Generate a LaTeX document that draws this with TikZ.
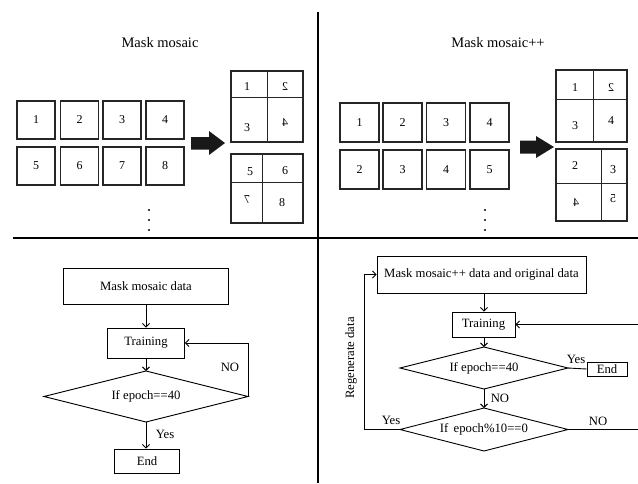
\documentclass[tikz,border=0pt]{standalone}
\usepackage{fontspec}
\setmainfont{Liberation Serif}
\usetikzlibrary{arrows.meta}
\begin{document}
\begin{tikzpicture}[x=1pt,y=-1pt,
  txt/.style={font=\fontsize{12.7}{14}\selectfont},
  numbox/.style={draw=black!85,line width=1.3pt,minimum width=38pt,minimum height=38pt,inner sep=0pt,font=\fontsize{12}{14}\selectfont},
  lbl/.style={inner sep=0pt,font=\fontsize{12}{14}\selectfont},
  title/.style={font=\fontsize{14.5}{16}\selectfont},
  fbox/.style={draw,line width=0.9pt,inner sep=0pt,font=\fontsize{12.7}{14}\selectfont},
  diatext/.style={inner sep=0pt,font=\fontsize{12.7}{14}\selectfont},
  dialine/.style={line width=0.9pt},
  conn/.style={line width=0.9pt},
  arr/.style={line width=0.9pt,-{Straight Barb[length=3.5pt,width=7pt]}},
  bigarrow/.style={fill=black!90,draw=none},
  divider/.style={line width=1.5pt},
  mosaic/.style={draw=black!85,line width=1.2pt},
  mline/.style={draw=black!85,line width=0.9pt}
]
\useasboundingbox (0,0) rectangle (638,483);
% dividers
\draw[divider] (318,12) -- (318,483);
\draw[divider] (13,238) -- (638,238);

% ===== top left =====
\node[title] (t1) at (160,43) {Mask mosaic};
\foreach \n/\x/\y in {1/36/120,2/79.5/120,3/122/120,4/165/120,5/36/166,6/79.5/166,7/122/166,8/165/166}
  \node[numbox] (L\n) at (\x,\y) {\n};
\fill[bigarrow] (191,137) -- (209,137) -- (209,131) -- (225,143) -- (209,155) -- (209,149.5) -- (191,149.5) -- cycle;
% mosaic A
\draw[mosaic] (231,71) rectangle (303,142);
\draw[mline] (267,71) -- (267,142) (231,97) -- (303,97);
\node[lbl] (a1) at (247,87) {1};
\node[lbl] (a2) at (285,87) {\reflectbox{2}};
\node[lbl] (a3) at (247,128) {3};
\node[lbl] (a4) at (285,123) {\reflectbox{4}};
% mosaic B
\draw[mosaic] (231,154) rectangle (303,223);
\draw[mline] (262,154) -- (262,223) (231,182) -- (303,182);
\node[lbl] (b5) at (250,172) {5};
\node[lbl] (b6) at (285,171) {6};
\node[lbl] (b7) at (247,200) {\reflectbox{7}};
\node[lbl] (b8) at (282,203) {8};
\foreach \y in {210,220,230} \fill (149,\y) circle (1.2);

% ===== top right =====
\node[title] (t2) at (498,43) {Mask mosaic++};
\foreach \k/\n/\x/\y in {1/1/359.5/122.5,2/2/402.5/122.5,3/3/446/122.5,4/4/489.5/122.5,5/2/359.5/169.5,6/3/402.5/169.5,7/4/446/169.5,8/5/489.5/169.5}
  \node[numbox,minimum width=39pt,minimum height=39pt] (R\k) at (\x,\y) {\n};
\fill[bigarrow] (520,140.5) -- (536,140.5) -- (536,136) -- (554,147) -- (536,158) -- (536,153.5) -- (520,153.5) -- cycle;
% mosaic C
\draw[mosaic] (556,70) rectangle (627,142);
\draw[mline] (593,70) -- (593,142) (556,99) -- (627,99);
\node[lbl] (c1) at (575,88) {1};
\node[lbl] (c2) at (611,88) {\reflectbox{2}};
\node[lbl] (c3) at (575,126) {3};
\node[lbl] (c4) at (611,121) {4};
% mosaic D
\draw[mosaic] (556,149) rectangle (627,221);
\draw[mline] (601,149) -- (601,221) (556,183) -- (627,183);
\node[lbl] (d2) at (575,166) {2};
\node[lbl] (d3) at (613,170) {3};
\node[lbl] (d4) at (576,203) {\reflectbox{4}};
\node[lbl] (d5) at (613,199) {\reflectbox{5}};
\foreach \y in {210,220,230} \fill (485,\y) circle (1.2);

% ===== bottom left flowchart =====
\node[fbox,minimum width=165pt,minimum height=36pt] (data1) at (146,286) {Mask mosaic data};
\node[fbox,minimum width=77pt,minimum height=30pt] (train1) at (146,343) {Training};
\node[diatext] (dia1) at (146,396.5) {If epoch==40};
\coordinate (dia1n) at (146,371);
\coordinate (dia1s) at (146,422);
\coordinate (dia1e) at (248,396.5);
\coordinate (dia1w) at (44,396.5);
\draw[dialine] (dia1n) -- (dia1e) -- (dia1s) -- (dia1w) -- cycle;
\node[fbox,minimum width=65pt,minimum height=24pt] (end1) at (147,461) {End};
\draw[arr] (data1) -- (train1);
\draw[arr] (train1) -- (dia1n);
\draw[arr] (dia1s) -- (dia1s |- end1.north) node[txt,midway,right=6pt,yshift=1pt] {Yes};
\draw[arr] (dia1e) |- (train1.east);
\node[txt] (no1) at (230,367) {NO};

% ===== bottom right flowchart =====
\node[fbox,minimum width=209pt,minimum height=37pt] (data2) at (481.5,274.5) {Mask mosaic++ data and original data};
\node[fbox,minimum width=63pt,minimum height=25pt] (train2) at (483.5,324.5) {Training};
\node[diatext] (dia2) at (484,368) {If epoch==40};
\coordinate (dia2n) at (484,347);
\coordinate (dia2s) at (484,389);
\coordinate (dia2e) at (568,368);
\coordinate (dia2w) at (400,368);
\draw[dialine] (dia2n) -- (dia2e) -- (dia2s) -- (dia2w) -- cycle;
\node[fbox,minimum width=40pt,minimum height=14pt] (end2) at (607,369) {End};
\node[diatext] (dia3) at (484,429.5) {If\, epoch\%10==0};
\coordinate (dia3n) at (484,408);
\coordinate (dia3s) at (484,451);
\coordinate (dia3e) at (568,429.5);
\coordinate (dia3w) at (400,429.5);
\draw[dialine] (dia3n) -- (dia3e) -- (dia3s) -- (dia3w) -- cycle;
\coordinate (rA) at (639,429.5);
\coordinate (rB) at (639,324.5);
\coordinate (lA) at (364,429.5);
\draw[arr] (data2.south -| dia2n) -- (train2.north -| dia2n);
\draw[arr] (train2.south -| dia2n) -- (dia2n);
\draw[conn] (dia2e) -- (end2.west);
\node[txt] (yes2) at (576,359) {Yes};
\draw[arr] (dia2s) -- (dia3n) node[txt,midway,right=3pt] {NO};
\draw[conn] (dia3e) -- (rA);
\node[txt] (no3) at (598,421) {NO};
\draw[arr] (rB) -- (train2.east);
\draw[arr] (dia3w) -- (lA) |- (data2.west);
\node[txt] (yes3) at (391,420) {Yes};
\node[txt,rotate=90] (regen) at (351,358) {Regenerate data};
\end{tikzpicture}
\end{document}
